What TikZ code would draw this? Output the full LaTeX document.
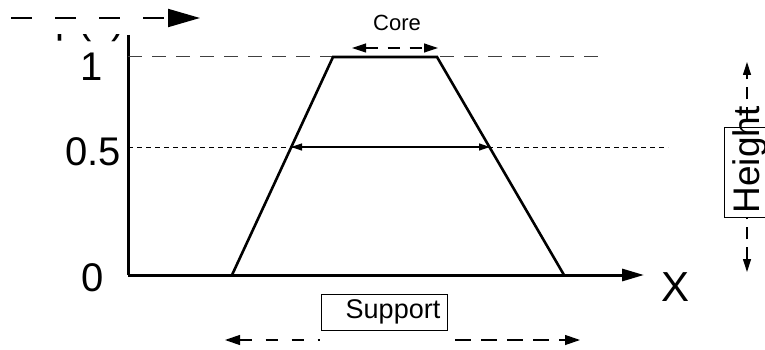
\documentclass[tikz,border=0pt]{standalone}
\usepackage{fontspec}
\setmainfont{Liberation Sans}
\usetikzlibrary{arrows.meta}
\tikzset{
  axisline/.style={line width=3pt, -{Triangle[length=22pt,width=12pt]}},
  curveline/.style={line width=2.6pt, line join=miter},
  levelline/.style={line width=1pt, draw=black!75, dash pattern=on 14pt off 10pt},
  halfline/.style={line width=0.9pt, dash pattern=on 5pt off 4pt},
  bigtxt/.style={inner sep=0pt, font=\fontsize{40}{48}\selectfont},
  dimarrow/.style={line width=1.2pt, dash pattern=on 12pt off 10pt, {Triangle[length=14pt,width=9pt]}-{Triangle[length=14pt,width=9pt]}},
  labelbox/.style={draw, line width=1pt, fill=white},
}
\begin{document}
\begin{tikzpicture}[x=1pt,y=-1pt]
\useasboundingbox (0,0) rectangle (765,350);
% partially hidden mu(x)
\begin{scope}
  \clip (40,35) rectangle (127,60);
  \node[bigtxt, anchor=base] (mu) at (90,34) {μ(x)};
\end{scope}
% top dashed arrow
\coordinate (ta) at (11,18);
\coordinate (tb) at (200,18);
\draw[line width=2pt, dash pattern=on 21pt off 23pt, -{Triangle[length=32pt,width=18pt]}] (ta) -- (tb);
% axes
\coordinate (O) at (128,275);
\coordinate (ytop) at (128,35);
\coordinate (xend) at (644,275);
\draw[line width=3pt] (ytop) -- (O);
\draw[axisline] (O) -- (xend);
% level lines
\coordinate (l1a) at (128,57);
\coordinate (l1b) at (605,57);
\draw[levelline] (l1a) -- (l1b);
\coordinate (l5a) at (128,147);
\coordinate (l5b) at (668,147);
\draw[halfline] (l5a) -- (l5b);
% trapezoid
\coordinate (p1) at (232,275);
\coordinate (p2) at (333,57);
\coordinate (p3) at (437,57);
\coordinate (p4) at (564,275);
\draw[curveline] (p1) -- (p2) -- (p3) -- (p4);
% alpha cut arrow
\coordinate (c1) at (291,147);
\coordinate (c2) at (490,147);
\draw[line width=1.2pt, {Triangle[length=11pt,width=7pt]}-{Triangle[length=11pt,width=7pt]}] (c1) -- (c2);
% axis labels
\node[bigtxt] (one) at (92,67) {1};
\node[bigtxt] (half) at (93,152) {0.5};
\node[bigtxt] (zero) at (93,278) {0};
\node[bigtxt, font=\fontsize{42}{50}\selectfont] (X) at (675,287) {X};
% core
\node[inner sep=0pt, font=\fontsize{22}{26}\selectfont] (core) at (397,23) {Core};
\coordinate (k1) at (352,48);
\coordinate (k2) at (438,48);
\draw[dimarrow] (k1) -- (k2);
% support
\coordinate (s1) at (225,340);
\coordinate (s2) at (320,340);
\coordinate (s3) at (455,340);
\coordinate (s4) at (580,340);
\draw[line width=1.2pt, dash pattern=on 12pt off 14pt, {Triangle[length=15pt,width=10pt]}-] (s1) -- (s2);
\draw[line width=1.2pt, dash pattern=on 16pt off 10pt, -{Triangle[length=15pt,width=10pt]}] (s3) -- (s4);
\draw[labelbox] (321,294) rectangle (447,330);
\node[inner sep=0pt, font=\fontsize{27}{32}\selectfont] (support) at (393,312) {Support};
% height
\coordinate (h1) at (747,272);
\coordinate (h2) at (747,62);
\draw[line width=1.2pt, dash pattern=on 12pt off 8pt, {Triangle[length=13pt,width=8pt]}-{Triangle[length=13pt,width=8pt]}] (h1) -- (h2);
\draw[labelbox] (724,128) rectangle (780,217);
\node[inner sep=0pt, rotate=90, font=\fontsize{37}{44}\selectfont] (height) at (750,160) {Height};
\end{tikzpicture}
\end{document}
